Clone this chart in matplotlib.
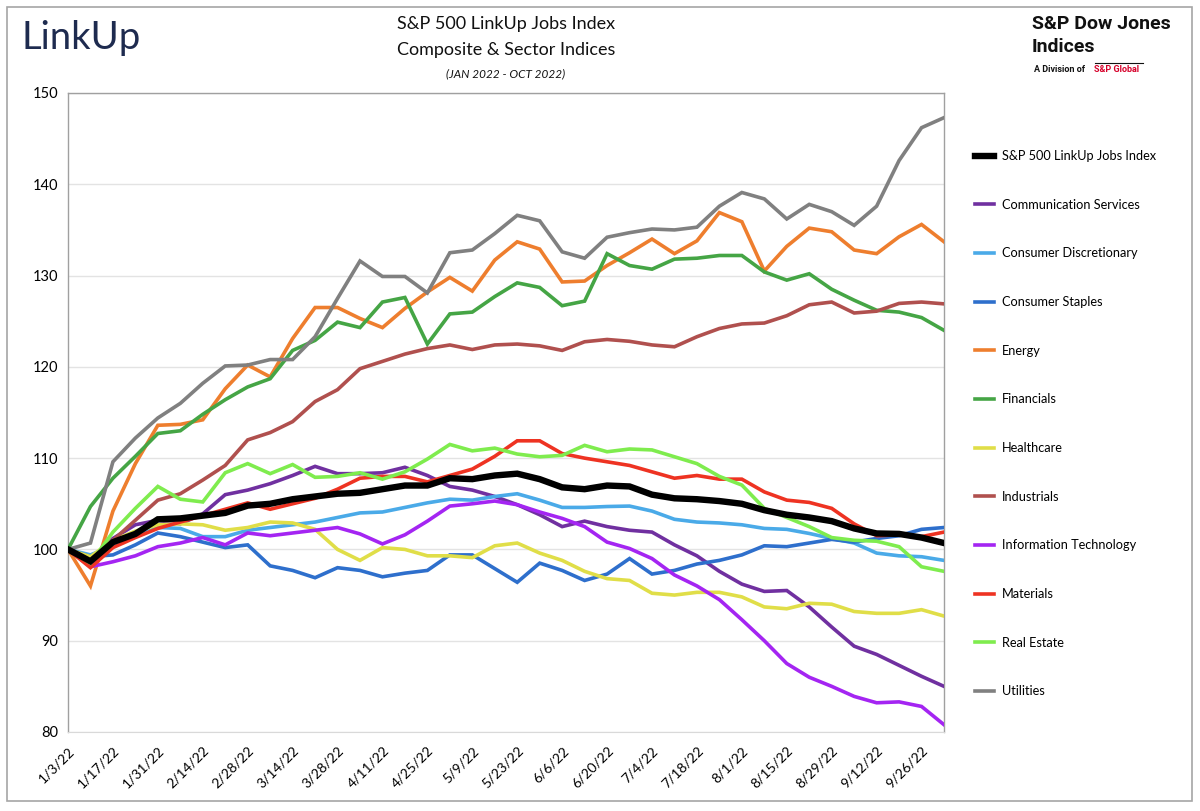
import matplotlib
matplotlib.use("Agg")
import matplotlib.pyplot as plt
from matplotlib.lines import Line2D
from matplotlib.patches import Rectangle

plt.rcParams['font.family'] = ['Lato', 'DejaVu Sans']

weeks = ["1/3/22", "1/10/22", "1/17/22", "1/24/22", "1/31/22", "2/7/22", "2/14/22", "2/21/22",
         "2/28/22", "3/7/22", "3/14/22", "3/21/22", "3/28/22", "4/4/22", "4/11/22", "4/18/22",
         "4/25/22", "5/2/22", "5/9/22", "5/16/22", "5/23/22", "5/30/22", "6/6/22", "6/13/22",
         "6/20/22", "6/27/22", "7/4/22", "7/11/22", "7/18/22", "7/25/22", "8/1/22", "8/8/22",
         "8/15/22", "8/22/22", "8/29/22", "9/5/22", "9/12/22", "9/19/22", "9/26/22", "10/3/22"]

composite = [100, 98.7, 100.8, 101.7, 103.3, 103.4, 103.7, 104.0, 104.8, 105.0, 105.5, 105.8, 106.1,
             106.2, 106.6, 107.0, 107.0, 107.8, 107.7, 108.1, 108.3, 107.7, 106.8, 106.6, 107.0, 106.9,
             106.0, 105.6, 105.5, 105.3, 105.0, 104.3, 103.8, 103.5, 103.1, 102.3, 101.75, 101.7, 101.3, 100.7]
comm_services = [100, 98.8, 101.2, 102.7, 103.2, 102.8, 103.9, 106.0, 106.5, 107.2, 108.1, 109.1, 108.3,
                 108.3, 108.4, 109.0, 108.1, 106.9, 106.5, 105.8, 104.9, 103.8, 102.5, 103.1, 102.5, 102.1,
                 101.9, 100.5, 99.3, 97.6, 96.2, 95.4, 95.5, 93.7, 91.5, 89.4, 88.5, 87.3, 86.1, 85.0]
cons_discretionary = [100, 99.4, 100.4, 101.4, 102.4, 102.3, 101.4, 101.4, 102.1, 102.4, 102.7, 103.0, 103.5,
                      104.0, 104.1, 104.6, 105.1, 105.5, 105.4, 105.8, 106.1, 105.4, 104.6, 104.6, 104.7, 104.75,
                      104.2, 103.3, 103.0, 102.9, 102.7, 102.3, 102.2, 101.75, 101.2, 100.7, 99.6, 99.3, 99.2, 98.8]
cons_staples = [100, 99.2, 99.4, 100.5, 101.8, 101.4, 100.8, 100.2, 100.5, 98.2, 97.7, 96.9, 98.0,
                97.7, 97.0, 97.4, 97.7, 99.4, 99.4, 97.9, 96.4, 98.5, 97.7, 96.6, 97.3, 99.0,
                97.3, 97.7, 98.4, 98.8, 99.4, 100.4, 100.3, 100.7, 101.1, 100.8, 101.2, 101.5, 102.2, 102.4]
energy = [100, 96.0, 104.2, 109.4, 113.6, 113.7, 114.2, 117.6, 120.2, 118.9, 123.1, 126.5, 126.5,
          125.3, 124.3, 126.4, 128.2, 129.8, 128.3, 131.7, 133.7, 132.9, 129.3, 129.4, 131.1, 132.5,
          134.0, 132.4, 133.8, 136.9, 135.9, 130.5, 133.2, 135.2, 134.8, 132.8, 132.4, 134.25, 135.6, 133.7]
financials = [100, 104.7, 107.8, 110.2, 112.7, 113.0, 114.8, 116.4, 117.8, 118.7, 121.8, 122.9, 124.9,
              124.3, 127.1, 127.6, 122.5, 125.8, 126.0, 127.7, 129.2, 128.7, 126.7, 127.2, 132.4, 131.1,
              130.7, 131.8, 131.9, 132.2, 132.2, 130.4, 129.5, 130.2, 128.5, 127.3, 126.2, 126.0, 125.4, 124.0]
healthcare = [100, 99.2, 101.0, 102.0, 102.7, 102.8, 102.7, 102.1, 102.4, 103.0, 102.9, 102.2, 100.0,
              98.8, 100.2, 100.0, 99.3, 99.3, 99.1, 100.4, 100.7, 99.6, 98.8, 97.6, 96.8, 96.6,
              95.2, 95.0, 95.3, 95.3, 94.8, 93.7, 93.5, 94.1, 94.0, 93.2, 93.0, 93.0, 93.4, 92.7]
industrials = [100, 98.5, 101.0, 103.2, 105.4, 106.1, 107.6, 109.2, 112.0, 112.8, 114.0, 116.2, 117.5,
               119.8, 120.6, 121.4, 122.0, 122.4, 121.9, 122.4, 122.5, 122.3, 121.8, 122.75, 123.0, 122.8,
               122.4, 122.2, 123.3, 124.2, 124.7, 124.8, 125.6, 126.8, 127.1, 125.9, 126.1, 126.95, 127.1, 126.9]
info_tech = [100, 98.1, 98.65, 99.3, 100.3, 100.7, 101.3, 100.5, 101.8, 101.5, 101.8, 102.1, 102.4,
             101.7, 100.6, 101.6, 103.1, 104.75, 105.0, 105.3, 104.9, 104.1, 103.4, 102.5, 100.8, 100.1,
             99.0, 97.2, 96.0, 94.5, 92.3, 90.0, 87.5, 86.0, 85.0, 83.9, 83.2, 83.3, 82.8, 80.8]
materials = [100, 98.0, 100.2, 101.3, 102.3, 103.0, 103.7, 104.4, 105.1, 104.4, 105.0, 105.6, 106.6,
             107.8, 108.0, 108.0, 107.4, 108.1, 108.8, 110.2, 111.9, 111.9, 110.5, 110.0, 109.6, 109.2,
             108.5, 107.8, 108.1, 107.7, 107.7, 106.3, 105.4, 105.15, 104.5, 102.8, 101.5, 101.6, 101.4, 101.9]
real_estate = [100, 98.5, 101.9, 104.5, 106.9, 105.5, 105.2, 108.4, 109.4, 108.3, 109.3, 107.9, 108.0,
               108.4, 107.7, 108.5, 109.9, 111.5, 110.8, 111.1, 110.45, 110.15, 110.3, 111.4, 110.7, 111.0,
               110.9, 110.15, 109.4, 108.0, 107.05, 104.5, 103.5, 102.5, 101.3, 101.0, 100.9, 100.3, 98.1, 97.6]
utilities = [100, 100.7, 109.6, 112.2, 114.4, 116.0, 118.2, 120.1, 120.2, 120.8, 120.8, 123.3, 127.5,
             131.6, 129.9, 129.9, 128.1, 132.5, 132.8, 134.6, 136.6, 136.0, 132.6, 131.9, 134.2, 134.7,
             135.1, 135.0, 135.3, 137.6, 139.1, 138.4, 136.2, 137.8, 137.0, 135.5, 137.6, 142.6, 146.2, 147.3]

series_names = ["S&P 500 LinkUp Jobs Index", "Communication Services", "Consumer Discretionary",
                "Consumer Staples", "Energy", "Financials", "Healthcare", "Industrials",
                "Information Technology", "Materials", "Real Estate", "Utilities"]
series_values = [composite, comm_services, cons_discretionary, cons_staples, energy, financials,
                 healthcare, industrials, info_tech, materials, real_estate, utilities]
series_colors = ["#000000", "#7030A0", "#4AAAE8", "#2E6FCC", "#EE7E2E", "#45A545",
                 "#E0DE48", "#B0504E", "#A425F2", "#EE3322", "#7FEC4E", "#808080"]

y_ticks = [80, 90, 100, 110, 120, 130, 140, 150]
x_tick_labels = weeks[::2]

fig = plt.figure(figsize=(12, 8.11), dpi=100)
ax = fig.add_axes([68/1200, 1-732/811, (944-68)/1200, (732-93)/811])

x = list(range(len(weeks)))
# draw sectors first, composite on top
order = list(range(1, len(series_names))) + [0]
for i in order:
    lw = 4.6 if i == 0 else 2.6
    ax.plot(x, series_values[i], color=series_colors[i], lw=lw, solid_joinstyle='miter',
            zorder=3 if i else 4, label=series_names[i])

ax.set_xlim(0, len(weeks) - 1)
ax.set_ylim(80, 150)
ax.set_yticks(y_ticks)
ax.set_yticklabels([str(v) for v in y_ticks], fontsize=10.5)
ax.set_xticks(x[::2])
ax.set_xticklabels(x_tick_labels, rotation=45, ha='right', rotation_mode='anchor', fontsize=10)
ax.tick_params(axis='both', length=0, pad=7, colors='#000000')
ax.tick_params(axis='x', pad=9)
ax.grid(axis='y', color='#E3E3E3', lw=1)
ax.set_axisbelow(True)
for s in ['left', 'top', 'right']:
    ax.spines[s].set_color('#A0A0A0')
    ax.spines[s].set_linewidth(1)
ax.spines['bottom'].set_color('#D9D9D9')

# legend
handles = [Line2D([0], [0], color=series_colors[i], lw=(4.6 if i == 0 else 2.6)) for i in range(len(series_names))]
fig.legend(handles, series_names, loc='upper left', bbox_to_anchor=(975/1200, 1-150/811),
           frameon=False, fontsize=9.2, handlelength=1.45, handletextpad=0.65,
           labelspacing=2.87, borderpad=0, borderaxespad=0)

# titles
cx = (68 + 944) / 2 / 1200
fig.text(cx, 1-24/811, "S&P 500 LinkUp Jobs Index", ha='center', va='center', fontsize=13, color='#111111')
fig.text(cx, 1-50/811, "Composite & Sector Indices", ha='center', va='center', fontsize=13, color='#111111')
fig.text(cx, 1-74/811, "(JAN 2022 - OCT 2022)", ha='center', va='center', fontsize=8.5,
         style='italic', color='#111111')

# logos as text
fig.text(21/1200, 1-38/811, "LinkUp", ha='left', va='center', fontsize=27.5, color='#1E2B4F')
fig.text(1032/1200, 1-24/811, "S&P Dow Jones", ha='left', va='center', fontsize=14,
         fontweight='bold', color='#111111', family=['Roboto', 'DejaVu Sans'])
fig.text(1032/1200, 1-47/811, "Indices", ha='left', va='center', fontsize=14,
         fontweight='bold', color='#111111', family=['Roboto', 'DejaVu Sans'])
fig.text(1034/1200, 1-70/811, "A Division of", ha='left', va='center', fontsize=6.5,
         fontweight='bold', color='#111111', family=['Roboto', 'DejaVu Sans'])
fig.text(1094/1200, 1-70/811, "S&P Global", ha='left', va='center', fontsize=6.5,
         fontweight='bold', color='#D6002A', family=['Roboto', 'DejaVu Sans'])
fig.add_artist(Line2D([1095/1200, 1143/1200], [1-63/811, 1-63/811], color='#111111', lw=0.8))

# outer border
fig.add_artist(Rectangle((7/1200, 1-801/811), (1192-7)/1200, (801-7)/811, fill=False,
                         edgecolor='#A6A6A6', lw=1.2, transform=fig.transFigure))

fig.savefig("out.png", dpi=100)
